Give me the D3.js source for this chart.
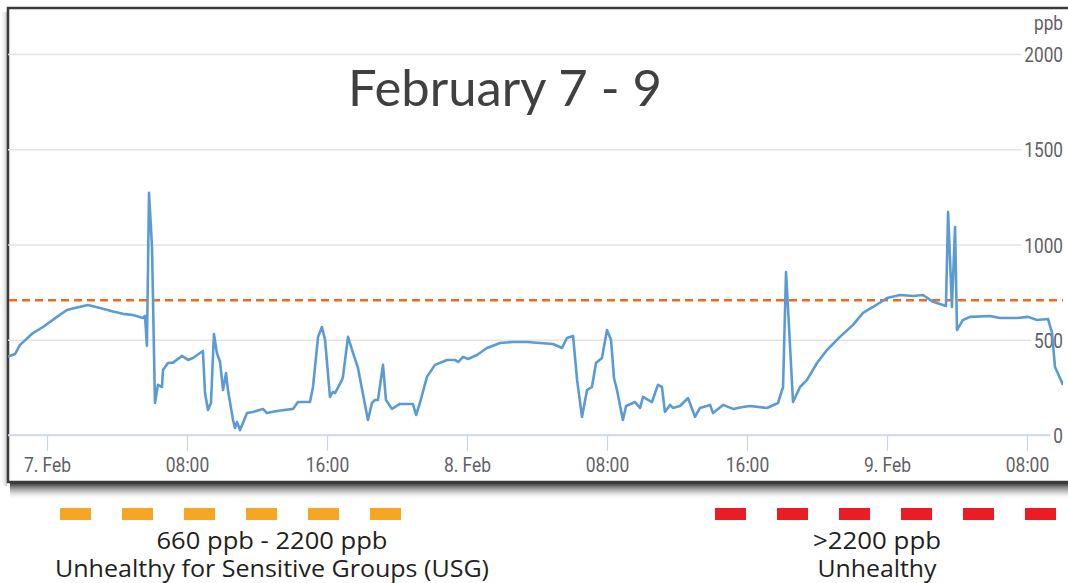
<!DOCTYPE html>
<html>
<head>
<meta charset="utf-8">
<script src="https://cdn.jsdelivr.net/npm/d3@7"></script>
<style>
  body { margin: 0; background: #fff; }
  svg { display: block; }
</style>
</head>
<body>
<script>
var width = 1068, height = 583;

// hours after 7 Feb 00:00 and the reading at that time (ppb)
var hours = [-2.23, -1.83, -1.54, -0.80, -0.23, 0.57, 1.14, 1.71, 2.34, 3.03, 3.77, 4.34, 4.91, 5.49, 5.60, 5.71, 5.83, 6.00, 6.17, 6.34,
  6.57, 6.63, 6.91, 7.20, 7.71, 8.06, 8.34, 8.91, 9.03, 9.20, 9.37, 9.54, 9.71, 9.89, 10.06, 10.23, 10.34, 10.63, 10.74, 10.86,
  11.03, 11.43, 11.77, 12.34, 12.57, 13.14, 14.06, 14.34, 15.03, 15.20, 15.49, 15.71, 15.89, 16.17, 16.34, 16.46, 16.86, 16.91, 17.20, 17.49,
  17.77, 18.34, 18.57, 18.74, 18.91, 19.20, 19.37, 19.71, 20.17, 20.91, 21.09, 21.31, 21.71, 22.17, 22.86, 23.31, 23.49, 23.77, 24.06, 24.57,
  25.14, 25.89, 26.63, 27.43, 28.17, 28.91, 29.43, 29.71, 30.06, 30.29, 30.57, 30.86, 31.14, 31.37, 31.71, 32.00, 32.23, 32.40, 32.57, 32.91,
  33.09, 33.60, 33.89, 34.06, 34.57, 34.91, 35.14, 35.31, 35.60, 35.77, 36.17, 36.63, 37.03, 37.31, 37.89, 38.06, 38.63, 39.20, 39.77, 40.17,
  41.14, 41.77, 42.06, 42.23, 42.34, 42.63, 43.03, 43.43, 44.00, 44.57, 45.31, 46.06, 46.63, 47.20, 48.00, 48.74, 49.49, 50.06, 50.63, 51.37,
  51.49, 51.71, 51.89, 52.00, 52.34, 52.74, 53.89, 54.46, 55.43, 56.06, 56.57, 57.20, 57.43, 57.60, 58.06];
var ppb = [411, 425, 473, 535, 567, 620, 656, 669, 682, 667, 648, 636, 630, 614, 625, 469, 1271, 988, 168, 263,
  252, 341, 378, 380, 415, 394, 404, 441, 220, 131, 168, 530, 430, 383, 236, 325, 236, 79, 37, 68,
  26, 115, 121, 137, 115, 126, 137, 173, 173, 252, 515, 567, 499, 200, 226, 220, 289, 305, 515, 430,
  352, 79, 168, 184, 184, 368, 184, 137, 163, 163, 105, 168, 305, 368, 394, 394, 383, 410, 399, 420,
  457, 483, 488, 488, 483, 478, 457, 509, 520, 289, 95, 236, 252, 378, 404, 551, 499, 299, 236, 79,
  152, 173, 142, 200, 173, 263, 252, 121, 158, 142, 152, 194, 95, 142, 158, 115, 158, 137, 147, 152,
  142, 168, 252, 856, 672, 173, 252, 289, 378, 446, 515, 578, 641, 672, 719, 735, 730, 735, 699, 677,
  1171, 672, 1092, 551, 604, 620, 625, 614, 614, 620, 604, 609, 536, 357, 263];

var yTicks = [0, 500, 1000, 1500, 2000];
var threshold = 707;
var unit = "ppb";
var title = "February 7 - 9";
var legendTop = ["660 ppb - 2200 ppb", ">2200 ppb"];
var legendBottom = ["Unhealthy for Sensitive Groups (USG)", "Unhealthy"];
var legendColors = ["#f6a623", "#ec1c24"];

// zona del grafico
var plot = {left: 8, right: 1063, top: 8, bottom: 482};

var base = Date.UTC(2019, 1, 7);
function toDate(h) { return new Date(base + h * 3600e3); }

var x = d3.scaleUtc()
  .domain([toDate(0), toDate(56)])
  .range([47, 1027]);
var y = d3.scaleLinear()
  .domain([0, 2000])
  .range([435, 54]);

var svg = d3.select("body").append("svg")
  .attr("width", width)
  .attr("height", height);

var defs = svg.append("defs");
var shadow = defs.append("linearGradient").attr("id", "shadow")
  .attr("x1", 0).attr("y1", 0).attr("x2", 0).attr("y2", 1);
shadow.append("stop").attr("offset", 0).attr("stop-color", "#333").attr("stop-opacity", 1);
shadow.append("stop").attr("offset", 0.5).attr("stop-color", "#999").attr("stop-opacity", 0.6);
shadow.append("stop").attr("offset", 1).attr("stop-color", "#ffffff").attr("stop-opacity", 0);
var sideShadow = defs.append("linearGradient").attr("id", "sideShadow")
  .attr("x1", 1).attr("y1", 0).attr("x2", 0).attr("y2", 0);
sideShadow.append("stop").attr("offset", 0).attr("stop-color", "#888").attr("stop-opacity", 0.5);
sideShadow.append("stop").attr("offset", 1).attr("stop-color", "#fff").attr("stop-opacity", 0);
defs.append("clipPath").attr("id", "clip")
  .append("rect")
  .attr("x", plot.left).attr("y", plot.top)
  .attr("width", plot.right - plot.left).attr("height", plot.bottom - plot.top);

// ombra e cornice
svg.append("rect")
  .attr("x", 10).attr("y", plot.bottom + 1)
  .attr("width", width - 10).attr("height", 17)
  .attr("fill", "url(#shadow)");
svg.append("rect")
  .attr("x", 0).attr("y", 12)
  .attr("width", 7).attr("height", plot.bottom - 8)
  .attr("fill", "url(#sideShadow)");
svg.append("rect")
  .attr("x", plot.left).attr("y", plot.top)
  .attr("width", width + 20).attr("height", plot.bottom - plot.top)
  .attr("fill", "#fff")
  .attr("stroke", "#3a3a3a")
  .attr("stroke-width", 2.5);

// griglia
svg.append("g")
  .attr("transform", "translate(" + plot.left + ",0)")
  .call(d3.axisLeft(y).tickValues(yTicks).tickSize(-(plot.right - plot.left)).tickFormat(""))
  .call(function (g) {
    g.select(".domain").remove();
    g.selectAll("line").attr("stroke", "#e3e3e3").attr("stroke-width", 1.5);
  });

// asse x
var xTicks = d3.utcHour.every(8).range(x.invert(plot.left), x.invert(plot.right));
var fmtHour = d3.utcFormat("%H:%M");
svg.append("g")
  .attr("transform", "translate(0," + y(0) + ")")
  .call(d3.axisBottom(x).tickValues(xTicks).tickSize(16).tickPadding(5)
    .tickFormat(function (d) {
      return d.getUTCHours() === 0 ? d.getUTCDate() + ". Feb" : fmtHour(d);
    }))
  .call(function (g) {
    g.select(".domain").remove();
    g.selectAll("line").attr("stroke", "#ccd6eb").attr("stroke-width", 1.2);
    g.selectAll("text")
      .attr("y", 37)
      .attr("dy", null)
      .attr("fill", "#5f6066")
      .style("font-family", "Roboto, sans-serif")
      .style("font-size", "21px")
      .attr("transform", "scale(0.83,1)");
  });
svg.append("line")
  .attr("x1", plot.left).attr("x2", plot.right)
  .attr("y1", y(0)).attr("y2", y(0))
  .attr("stroke", "#ccd6eb").attr("stroke-width", 1.5);

// asse y a destra
var yAxis = svg.append("g")
  .attr("transform", "translate(1063,0)")
  .call(d3.axisRight(y).tickValues(yTicks).tickSize(0).tickPadding(0).tickFormat(d3.format("d")))
  .call(function (g) { g.select(".domain").remove(); });
yAxis.selectAll("text")
  .attr("x", 0)
  .attr("dy", "0.36em")
  .attr("text-anchor", "end")
  .attr("fill", "#5f6066")
  .style("font-family", "Roboto, sans-serif")
  .style("font-size", "21px")
  .attr("transform", "scale(0.82,1)");
yAxis.selectAll(".tick").each(function () {
  var t = d3.select(this).select("text");
  var w = t.node().getComputedTextLength() * 0.82;
  d3.select(this).insert("rect", "text")
    .attr("x", -w - 3).attr("y", -10)
    .attr("width", w + 6).attr("height", 20)
    .attr("fill", "#fff");
});
svg.append("text")
  .attr("x", 1063).attr("y", 30)
  .attr("text-anchor", "end")
  .attr("fill", "#5f6066")
  .style("font-family", "Roboto, sans-serif")
  .style("font-size", "21px")
  .attr("transform", "translate(1063,0) scale(0.82,1) translate(-1063,0)")
  .text(unit);

// soglia tratteggiata
svg.append("line")
  .attr("x1", plot.left + 1).attr("x2", plot.right)
  .attr("y1", y(threshold)).attr("y2", y(threshold))
  .attr("stroke", "#f2681c")
  .attr("stroke-width", 2.5)
  .attr("stroke-dasharray", "8,5");

// linea dei dati
var data = hours.map(function (h, i) { return {t: toDate(h), v: ppb[i]}; });
var line = d3.line()
  .x(function (d) { return x(d.t); })
  .y(function (d) { return y(d.v); });
svg.append("path")
  .datum(data)
  .attr("clip-path", "url(#clip)")
  .attr("d", line)
  .attr("fill", "none")
  .attr("stroke", "#5b9bd5")
  .attr("stroke-width", 2.6)
  .attr("stroke-linejoin", "round");

// titolo
svg.append("text")
  .attr("x", 505).attr("y", 106)
  .attr("text-anchor", "middle")
  .attr("fill", "#404040")
  .style("font-family", "Lato, sans-serif")
  .style("font-size", "50px")
  .attr("textLength", 314)
  .attr("lengthAdjust", "spacingAndGlyphs")
  .text(title);

// legenda sotto
var legendX = [60, 715];
var legendCenter = [272, 877];
var topWidth = [231, 128];
var bottomWidth = [434, 119];
legendColors.forEach(function (c, k) {
  for (var i = 0; i < 6; i++) {
    svg.append("rect")
      .attr("x", legendX[k] + i * 62).attr("y", 508)
      .attr("width", 31).attr("height", 12)
      .attr("fill", c);
  }
  svg.append("text")
    .attr("x", legendCenter[k]).attr("y", 549)
    .attr("text-anchor", "middle")
    .attr("fill", "#231f20")
    .style("font-family", "'Open Sans', sans-serif")
    .style("font-size", "23px")
    .attr("textLength", topWidth[k])
    .attr("lengthAdjust", "spacingAndGlyphs")
    .text(legendTop[k]);
  svg.append("text")
    .attr("x", legendCenter[k]).attr("y", 577)
    .attr("text-anchor", "middle")
    .attr("fill", "#231f20")
    .style("font-family", "'Open Sans', sans-serif")
    .style("font-size", "23px")
    .attr("textLength", bottomWidth[k])
    .attr("lengthAdjust", "spacingAndGlyphs")
    .text(legendBottom[k]);
});
</script>
</body>
</html>
